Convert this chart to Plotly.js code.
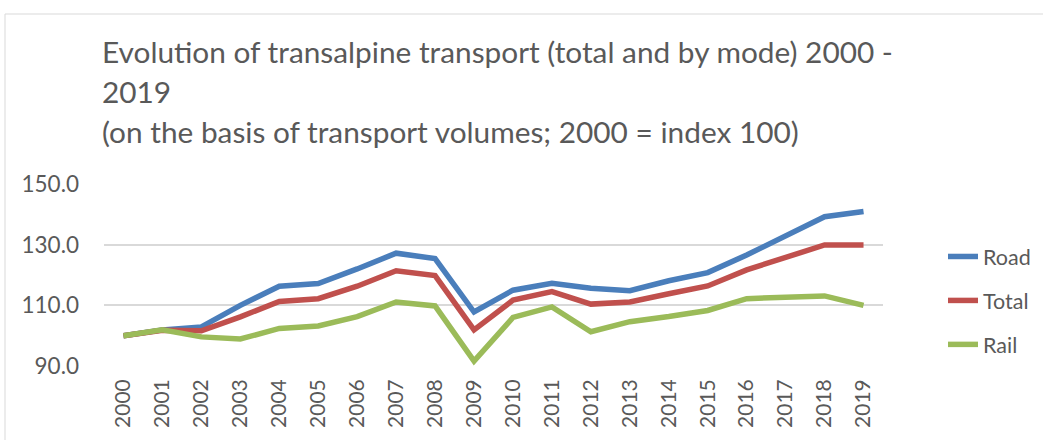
<!DOCTYPE html>
<html>
<head>
<meta charset="utf-8">
<script src="https://cdn.plot.ly/plotly-3.0.1.min.js"></script>
<style>
html,body{margin:0;padding:0;background:#fff;}
#chart{width:1043px;height:440px;}
</style>
</head>
<body>
<div id="chart"></div>
<script>
const years = ["2000","2001","2002","2003","2004","2005","2006","2007","2008","2009","2010","2011","2012","2013","2014","2015","2016","2017","2018","2019"];
const road  = [100.0,101.9,102.9,110.0,116.3,117.2,122.0,127.2,125.4,107.8,115.0,117.3,115.6,114.8,118.1,120.8,126.6,133.1,139.2,140.9];
const total = [100.0,101.8,101.6,106.2,111.3,112.2,116.3,121.4,119.8,101.9,111.7,114.5,110.4,111.1,113.8,116.4,121.7,125.9,129.9,129.9];
const rail  = [100.0,101.9,99.6,98.9,102.4,103.2,106.3,111.1,109.8,91.6,106.0,109.5,101.3,104.6,106.3,108.3,112.2,112.5,113.1,110.0];
const titleLines = ["Evolution of transalpine transport (total and by mode) 2000 -","2019","(on the basis of transport volumes; 2000 = index 100)"];
const yTicks = [90,110,130,150];

const font = "Lato, 'Open Sans', sans-serif";
const grey = "#595959";

const mk = (name, y, color, grp) => ({
  type: "scatter", mode: "lines", name: name, x: years, y: y,
  line: {color: color, width: 5.5}, legendgroup: grp, hoverinfo: "x+y+name"
});

const traces = [
  mk("Road", road, "#4A7EBB", "a"),
  mk("Total", total, "#C0504D", "b"),
  mk("Rail", rail, "#9BBB59", "c")
];

const W = 1043, H = 440, L = 104, R = 160, T = 184, B = 74;
const pw = W - L - R, ph = H - T - B;
const px = v => (v - L) / pw;
const py = v => (H - B - v) / ph;

const annotations = titleLines.map((t, i) => ({
  text: t, xref: "paper", yref: "paper", x: px(100), y: py(51 + 40 * i),
  xanchor: "left", yanchor: "middle", showarrow: false,
  font: {family: font, size: 29.8, color: grey}
}));

const layout = {
  width: W, height: H,
  margin: {l: L, r: R, t: T, b: B, pad: 0, autoexpand: false},
  paper_bgcolor: "#fff", plot_bgcolor: "#fff",
  showlegend: true,
  legend: {
    xref: "container", yref: "container",
    x: 943 / W, y: 1 - 236 / H, xanchor: "left", yanchor: "top",
    font: {family: font, size: 21.5, color: grey},
    tracegroupgap: 13, itemwidth: 30, bgcolor: "rgba(0,0,0,0)"
  },
  xaxis: {
    type: "category", range: [-0.5, 19.5], showgrid: false, zeroline: false,
    showline: false, ticks: "", tickangle: -90, ticklabelstandoff: 8,
    tickfont: {family: font, size: 21, color: grey}, fixedrange: true
  },
  yaxis: {
    range: [90, 150], tickvals: yTicks, tickformat: ".1f",
    showgrid: true, gridcolor: "#d9d9d9", gridwidth: 1.5, zeroline: false,
    showline: false, ticks: "", ticklabelstandoff: 24,
    tickfont: {family: font, size: 22.5, color: grey}, fixedrange: true
  },
  annotations: annotations,
  shapes: [{
    type: "rect", xref: "paper", yref: "paper",
    x0: px(5), x1: px(1060), y0: py(460), y1: py(14),
    line: {color: "#d9d9d9", width: 1}, fillcolor: "rgba(0,0,0,0)", layer: "below"
  }]
};

Plotly.newPlot("chart", traces, layout, {displayModeBar: false, staticPlot: false});
</script>
</body>
</html>
